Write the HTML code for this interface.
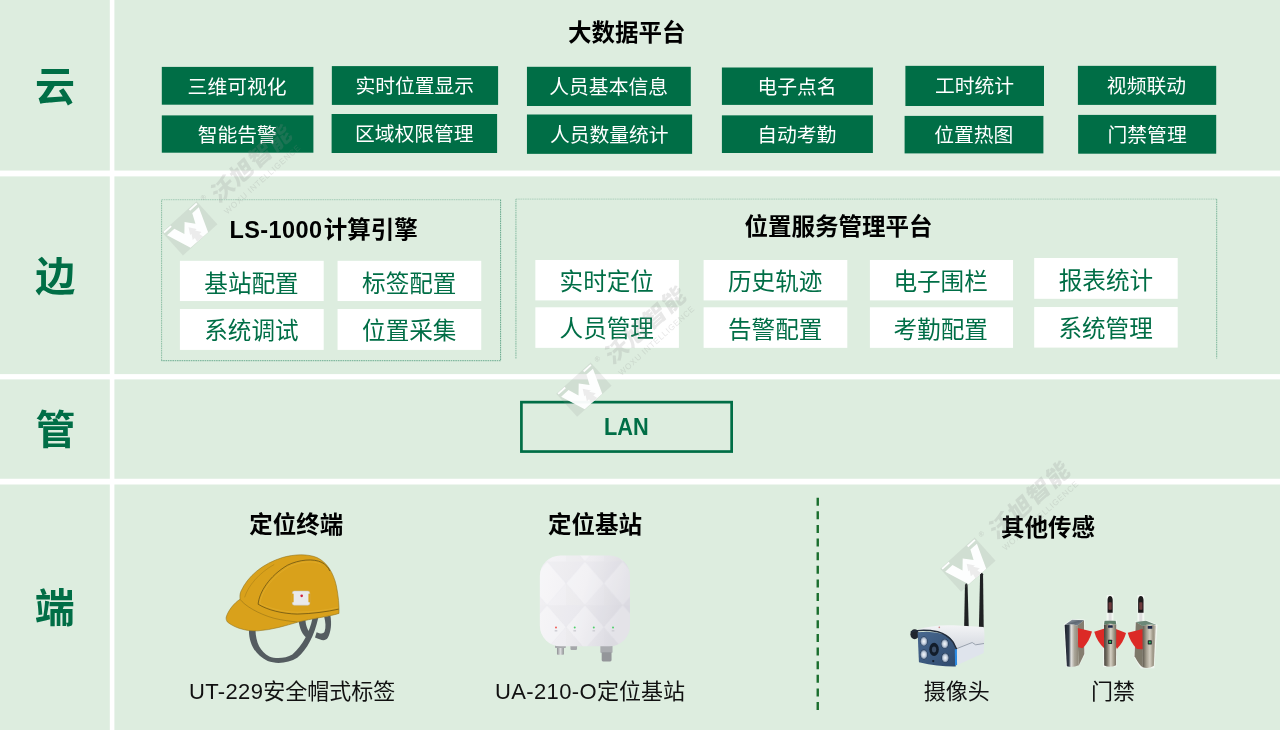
<!DOCTYPE html>
<html lang="zh-CN"><head><meta charset="utf-8"><title>系统架构</title>
<style>
*{margin:0;padding:0;box-sizing:border-box}
html,body{width:1280px;height:730px;overflow:hidden;background:#fff}
body{position:relative;will-change:transform;font-family:"Liberation Sans","Noto Sans CJK SC",sans-serif;color:#000}
.x{position:absolute;white-space:nowrap;line-height:1}
.lab{font-weight:700;font-size:40px;color:#006e46}
.t{font-weight:700;font-size:23.5px;color:#000}
.gt{font-size:19.8px;color:#fff}
.wt{font-size:23.6px;color:#006e46}
.cap{font-size:22px;color:#111}
.lt{font-weight:700;font-size:23px;color:#006e46;transform:scaleX(.945);transform-origin:0 0}
.l{letter-spacing:.42px;margin-right:1.4px}
.cap .l{letter-spacing:.35px;margin-right:0}
svg{position:absolute;overflow:visible}
</style></head>
<body>
<svg style="left:0;top:0" width="1280" height="730" fill="#ddeddf"><rect x="0" y="0" width="109.8" height="170.55"/><rect x="114.4" y="0" width="1165.6" height="170.55"/><rect x="0" y="176.4" width="109.8" height="197.7"/><rect x="114.4" y="176.4" width="1165.6" height="197.7"/><rect x="0" y="379.4" width="109.8" height="99.35"/><rect x="114.4" y="379.4" width="1165.6" height="99.35"/><rect x="0" y="484.5" width="109.8" height="245.5"/><rect x="114.4" y="484.5" width="1165.6" height="245.5"/></svg>
<svg style="left:0;top:0" width="1280" height="730" fill="#006e46"><rect x="161.8" y="66.9" width="151.6" height="37.8"/><rect x="161.8" y="115.4" width="151.6" height="37.3"/><rect x="331.85" y="66.1" width="166.25" height="38.8"/><rect x="331.6" y="114.0" width="165.5" height="39.0"/><rect x="526.95" y="66.8" width="163.85" height="39.2"/><rect x="526.95" y="114.5" width="165.15" height="39.35"/><rect x="721.9" y="67.5" width="151.0" height="37.4"/><rect x="721.9" y="115.35" width="151.0" height="37.65"/><rect x="905.4" y="65.85" width="138.6" height="40.15"/><rect x="904.6" y="115.9" width="138.8" height="37.5"/><rect x="1077.9" y="65.85" width="138.3" height="39.05"/><rect x="1078.15" y="114.9" width="138.05" height="38.8"/></svg>
<svg style="left:0;top:0" width="1280" height="730" fill="#fff"><rect x="179.9" y="260.8" width="143.8" height="40.25"/><rect x="179.9" y="309.05" width="143.8" height="40.85"/><rect x="337.55" y="260.8" width="143.7" height="40.25"/><rect x="337.55" y="309.05" width="143.7" height="40.85"/><rect x="535.35" y="260.0" width="143.55" height="40.4"/><rect x="535.35" y="307.3" width="143.55" height="40.55"/><rect x="703.6" y="260.0" width="143.7" height="40.4"/><rect x="703.6" y="307.3" width="143.7" height="40.55"/><rect x="869.9" y="260.0" width="143.15" height="40.4"/><rect x="869.9" y="307.3" width="143.15" height="40.55"/><rect x="1034.2" y="258.0" width="143.5" height="40.8"/><rect x="1034.2" y="307.05" width="143.5" height="40.55"/></svg>
<svg style="left:0;top:0" width="1280" height="730" fill="none" stroke="#3f9370" stroke-width="1" stroke-dasharray="1.6 0.7"><path d="M161.5 199.7H500.6" stroke-opacity=".35"/><path d="M500.6 199.7V360.7" stroke-opacity=".75"/><path d="M500.6 360.7H161.5" stroke-opacity=".7"/><path d="M161.6 360.7V199.7" stroke-opacity=".5"/><path d="M515.9 358.5V199.1" stroke-opacity=".4" stroke-width="1.4"/><path d="M515.9 199.1H1216.7" stroke-opacity=".3"/><path d="M1216.7 199.1V358.5" stroke-opacity=".6"/></svg>
<svg style="left:0;top:0" width="1280" height="730"><rect x="521.4" y="402.15" width="210.25" height="49.4" fill="none" stroke="#006e46" stroke-width="2.7"/></svg>
<svg style="left:0;top:0" width="1280" height="730"><line x1="817.75" y1="497.7" x2="817.75" y2="710.2" stroke="#1a6e2e" stroke-width="2.4" stroke-dasharray="8 5.62"/></svg>
<span class="x lab" id="t0" style="left:35.10px;top:67.10px">云</span>
<span class="x lab" id="t1" style="left:35.25px;top:256.75px">边</span>
<span class="x lab" id="t2" style="left:35.38px;top:409.88px">管</span>
<span class="x lab" id="t3" style="left:34.75px;top:587.50px">端</span>
<span class="x t" id="t4" style="left:568.12px;top:21.50px">大数据平台</span>
<span class="x t" id="t5" style="left:229.40px;top:218.50px"><span class="l">LS-1000</span>计算引擎</span>
<span class="x t" id="t6" style="left:744.50px;top:216.25px">位置服务管理平台</span>
<span class="x t" id="t7" style="left:249.25px;top:514.25px">定位终端</span>
<span class="x t" id="t8" style="left:548.00px;top:514.00px">定位基站</span>
<span class="x t" id="t9" style="left:1001.00px;top:516.60px">其他传感</span>
<span class="x gt" id="t10" style="left:187.60px;top:78.30px">三维可视化</span>
<span class="x gt" id="t11" style="left:197.75px;top:125.85px">智能告警</span>
<span class="x gt" id="t12" style="left:355.40px;top:77.30px">实时位置显示</span>
<span class="x gt" id="t13" style="left:354.95px;top:124.80px">区域权限管理</span>
<span class="x gt" id="t14" style="left:549.30px;top:78.10px">人员基本信息</span>
<span class="x gt" id="t15" style="left:549.90px;top:125.50px">人员数量统计</span>
<span class="x gt" id="t16" style="left:757.38px;top:78.13px">电子点名</span>
<span class="x gt" id="t17" style="left:757.21px;top:125.80px">自动考勤</span>
<span class="x gt" id="t18" style="left:934.90px;top:77.10px">工时统计</span>
<span class="x gt" id="t19" style="left:934.15px;top:125.62px">位置热图</span>
<span class="x gt" id="t20" style="left:1106.85px;top:77.20px">视频联动</span>
<span class="x gt" id="t21" style="left:1107.55px;top:125.88px">门禁管理</span>
<span class="x wt" id="t22" style="left:204.35px;top:273.10px">基站配置</span>
<span class="x wt" id="t23" style="left:204.24px;top:320.21px">系统调试</span>
<span class="x wt" id="t24" style="left:362.05px;top:273.15px">标签配置</span>
<span class="x wt" id="t25" style="left:362.10px;top:320.19px">位置采集</span>
<span class="x wt" id="t26" style="left:559.60px;top:271.08px">实时定位</span>
<span class="x wt" id="t27" style="left:559.60px;top:318.15px">人员管理</span>
<span class="x wt" id="t28" style="left:728.00px;top:271.10px">历史轨迹</span>
<span class="x wt" id="t29" style="left:728.03px;top:318.80px">告警配置</span>
<span class="x wt" id="t30" style="left:893.40px;top:271.20px">电子围栏</span>
<span class="x wt" id="t31" style="left:893.50px;top:318.65px">考勤配置</span>
<span class="x wt" id="t32" style="left:1058.77px;top:269.88px">报表统计</span>
<span class="x wt" id="t33" style="left:1058.40px;top:317.70px">系统管理</span>
<span class="x lt" id="t34" style="left:604.12px;top:415.50px">LAN</span>
<span class="x cap" id="t35" style="left:189.00px;top:680.60px"><span class="l">UT-229</span>安全帽式标签</span>
<span class="x cap" id="t36" style="left:495.10px;top:681.10px"><span class="l">UA-210-O</span>定位基站</span>
<span class="x cap" id="t37" style="left:923.70px;top:680.90px">摄像头</span>
<span class="x cap" id="t38" style="left:1091.10px;top:680.70px">门禁</span>
<svg style="left:220px;top:548px" width="130" height="120" viewBox="0 0 791 730">
<g fill="#545c60">
<path d="M176 500 C176 585 215 650 290 688 C345 708 420 700 470 668 C530 620 575 530 598 425 L562 430 C545 510 505 590 440 648 C400 672 340 676 300 660 C245 630 218 575 216 500 Z"/>
<path d="M478 440 C484 490 500 530 535 552 L552 520 C535 505 522 475 520 440 Z"/>
<path d="M672 412 C680 460 676 510 655 548 C640 568 615 562 578 545 L588 512 C610 522 628 524 636 510 C646 480 642 450 634 418 Z"/>
</g>
<path d="M38 420 C50 380 85 335 122 312 C120 290 122 275 128 262 C170 170 260 95 380 58 C450 38 530 34 590 58 C650 85 690 150 708 230 C720 290 726 350 724 398 C660 418 560 428 470 452 C400 472 320 498 230 504 C150 508 80 480 45 450 C38 440 36 430 38 420 Z" fill="#d9a11b" stroke="#8f7320" stroke-width="3.5"/>
<path d="M232 342 C238 270 300 170 410 105 C480 70 570 62 620 88 C645 102 660 120 668 140 M232 342 C290 378 380 400 470 402 C560 400 650 388 722 372" fill="none" stroke="#4a3c10" stroke-width="5" opacity=".75"/>
<path d="M243 338 C250 272 310 180 416 116 C484 82 566 74 614 98 M243 338 C300 368 385 390 470 391 C560 389 640 380 716 362" fill="none" stroke="#f0c24a" stroke-width="3" opacity=".55"/>
<path d="M122 312 C150 350 230 400 330 428 C380 440 430 446 470 450" fill="none" stroke="#7a6015" stroke-width="3.5" opacity=".75"/>
<path d="M150 300 C170 230 240 150 330 100" fill="none" stroke="#7a6015" stroke-width="3" opacity=".6"/>
<rect x="440" y="262" width="106" height="86" rx="12" fill="#e9e9ea" stroke="#c4c4c4" stroke-width="3"/>
<rect x="438" y="278" width="10" height="52" fill="#d9a11b"/>
<rect x="538" y="278" width="10" height="52" fill="#d9a11b"/>
<circle cx="497" cy="291" r="8" fill="#d0213a"/>
</svg>
<svg style="left:530px;top:548px" width="110" height="120" viewBox="0 0 669 730">
<defs>
<linearGradient id="bs1" x1="0" y1="0" x2="1" y2="0.3"><stop offset="0" stop-color="#f5f4f7"/><stop offset=".55" stop-color="#eeedf1"/><stop offset="1" stop-color="#dcdbe2"/></linearGradient>
<linearGradient id="bs2" x1="0" y1="0" x2="1" y2="0"><stop offset="0" stop-color="#8d8f92"/><stop offset=".5" stop-color="#dcdddf"/><stop offset="1" stop-color="#8d8f92"/></linearGradient>
<clipPath id="bsc"><rect x="60" y="45" width="548" height="553" rx="125"/></clipPath>
<pattern id="bsp" width="230" height="266" patternUnits="userSpaceOnUse" x="219" y="82">
<path d="M115 0 L230 133 L115 266 L0 133 Z" fill="#ffffff" opacity=".22"/>
<path d="M0 0 L115 0 L0 133 Z M230 0 L230 133 L115 0 Z" fill="#cfced6" opacity=".12"/>
<path d="M0 266 L115 266 L0 133 Z" fill="#d8d7de" opacity=".1"/>
<path d="M115 0 L230 133 L115 266 L0 133 Z" fill="none" stroke="#e2e1e7" stroke-width="3" opacity=".4"/>
</pattern>
</defs>
<rect x="164" y="590" width="42" height="60" rx="5" fill="url(#bs2)"/>
<rect x="152" y="592" width="66" height="16" rx="4" fill="#a9abae"/>
<rect x="246" y="592" width="40" height="28" rx="5" fill="#a5a7aa"/>
<rect x="428" y="590" width="74" height="48" rx="6" fill="#aaacb0"/>
<rect x="436" y="634" width="60" height="56" rx="8" fill="#94969a"/>
<rect x="60" y="45" width="548" height="553" rx="125" fill="url(#bs1)"/>
<rect x="60" y="45" width="548" height="553" rx="125" fill="url(#bsp)"/>
<circle cx="158" cy="484" r="6" fill="#f0605a"/>
<circle cx="272" cy="484" r="6" fill="#4fd06a"/>
<circle cx="388" cy="484" r="6" fill="#4fd06a"/>
<circle cx="505" cy="484" r="6" fill="#4fd06a"/>
<g fill="#cfcfd5"><rect x="150" y="499" width="16" height="9"/><rect x="264" y="499" width="16" height="9"/><rect x="380" y="499" width="16" height="9"/><rect x="497" y="499" width="16" height="9"/></g>
</svg>
<svg style="left:890px;top:560px" width="120" height="120" viewBox="0 0 730 730">
<defs>
<linearGradient id="cm1" x1="0" y1="0" x2="1" y2="1"><stop offset="0" stop-color="#48688f"/><stop offset="1" stop-color="#2f4a6e"/></linearGradient>
<linearGradient id="cm2" x1="0" y1="0" x2="0" y2="1"><stop offset="0" stop-color="#f3f4f6"/><stop offset="1" stop-color="#d5d9e0"/></linearGradient>
<radialGradient id="cm3"><stop offset="0" stop-color="#f7f9fb"/><stop offset=".55" stop-color="#c3cedd"/><stop offset=".8" stop-color="#8395ad"/><stop offset="1" stop-color="#24364f"/></radialGradient>
</defs>
<path d="M451 408 L456 152 Q464 130 472 152 L479 408 Z" fill="#1f2123"/>
<path d="M541 412 L548 86 Q557 66 566 86 L570 412 Z" fill="#1f2123"/>
<ellipse cx="150" cy="452" rx="26" ry="30" fill="#20262e"/>
<path d="M404 540 L500 502 L521 516 L572 508 L570 566 L410 638 Z" fill="#dfe4ec"/>
<path d="M166 424 Q260 392 386 397 L570 408 Q578 450 572 508 L521 516 L500 502 L404 540 Q380 470 330 452 Q250 426 166 424 Z" fill="url(#cm2)"/>
<path d="M404 540 L500 502 L521 516 L572 508" fill="none" stroke="#8a93a1" stroke-width="5"/>
<path d="M168 440 Q250 428 330 452 Q385 474 402 540 L400 648 Q300 650 176 622 Z" fill="url(#cm1)"/>
<path d="M130 436 Q200 418 290 436 Q350 452 384 500 L404 540" fill="none" stroke="#232d3b" stroke-width="9" stroke-linecap="round"/>
<path d="M394 545 L407 541 L408 638 L396 642 Z" fill="#2b8be4"/>
<ellipse cx="268" cy="544" rx="29" ry="40" fill="#121c2a"/>
<ellipse cx="268" cy="544" rx="13" ry="18" fill="#3d4f69"/>
<ellipse cx="206" cy="495" rx="23" ry="30" fill="url(#cm3)"/>
<ellipse cx="333" cy="510" rx="23" ry="30" fill="url(#cm3)"/>
<ellipse cx="206" cy="575" rx="23" ry="30" fill="url(#cm3)"/>
<ellipse cx="336" cy="595" rx="23" ry="30" fill="url(#cm3)"/>
<circle cx="263" cy="615" r="7" fill="#162030"/>
<circle cx="300" cy="410" r="5" fill="#c98a8a"/>
</svg>
<svg style="left:1055px;top:585px" width="110" height="90" viewBox="0 0 892 730">
<defs>
<linearGradient id="gt1" x1="0" y1="0" x2="1" y2="0"><stop offset="0" stop-color="#1d232c"/><stop offset=".3" stop-color="#323b48"/><stop offset=".46" stop-color="#e4e4e1"/><stop offset=".7" stop-color="#aaa599"/><stop offset="1" stop-color="#8a8374"/></linearGradient>
<linearGradient id="gt2" x1="0" y1="0" x2="1" y2="0"><stop offset="0" stop-color="#45423b"/><stop offset=".25" stop-color="#7a7467"/><stop offset=".55" stop-color="#d6d1c4"/><stop offset=".8" stop-color="#9f9888"/><stop offset="1" stop-color="#756e60"/></linearGradient>
<linearGradient id="gt3" x1="0" y1="0" x2="1" y2="0"><stop offset="0" stop-color="#5e594e"/><stop offset=".3" stop-color="#a8a293"/><stop offset=".55" stop-color="#d2cdc0"/><stop offset=".8" stop-color="#9a9383"/><stop offset="1" stop-color="#c4bfb3"/></linearGradient>
<linearGradient id="gt4" x1="0" y1="0" x2="1" y2="1"><stop offset="0" stop-color="#aab4be"/><stop offset=".5" stop-color="#5d6772"/><stop offset="1" stop-color="#8a949e"/></linearGradient>
</defs>
<g stroke="#f6faf6" stroke-width="12" stroke-linejoin="round" opacity=".8" fill="#f6faf6">
<path d="M78 322 L140 282 L235 285 L238 560 L190 652 L95 660 Z"/>
<path d="M397 320 L400 290 L495 290 L497 320 L495 655 L397 660 Z"/>
<path d="M655 300 L740 290 L825 325 L800 670 L700 672 L645 580 Z"/>
<rect x="424" y="88" width="44" height="205"/><rect x="674" y="88" width="44" height="205"/>
</g>
<path d="M180 330 L235 285 L238 560 L192 655 Z" fill="#857e70"/>
<path d="M183 348 L300 378 A300 300 0 0 1 224 514 L188 505 Z" fill="#dc2a26"/>
<path d="M318 380 L402 352 L402 518 A300 300 0 0 1 318 380 Z" fill="#dc2a26"/>
<path d="M493 356 L576 390 A300 300 0 0 1 502 520 L493 500 Z" fill="#dc2a26"/>
<path d="M78 324 Q130 312 182 330 L192 650 Q150 672 96 660 Z" fill="url(#gt1)"/>
<path d="M78 324 L138 282 L235 285 L182 330 Q130 312 78 324 Z" fill="url(#gt4)"/>
<rect x="435" y="215" width="24" height="80" fill="#dedede"/>
<path d="M426 225 L426 120 Q428 92 446 90 Q466 92 468 120 L468 225 Z" fill="#1d1b1c"/>
<rect x="434" y="140" width="26" height="60" rx="6" fill="#6e3a3c"/>
<path d="M397 322 Q445 306 497 322 L495 650 Q446 676 399 652 Z" fill="url(#gt2)"/>
<path d="M402 290 L492 290 L497 322 Q445 306 397 322 Z" fill="#5f7f6a"/>
<rect x="430" y="327" width="38" height="20" rx="3" fill="#1e2a4a"/>
<rect x="430" y="445" width="33" height="33" rx="3" fill="#1d2a2c"/>
<rect x="439" y="454" width="15" height="15" fill="#2fc465"/>
<rect x="684" y="215" width="24" height="85" fill="#dedede"/>
<path d="M674 225 L674 120 Q676 92 696 90 Q716 92 718 120 L718 225 Z" fill="#1d1b1c"/>
<rect x="683" y="140" width="26" height="60" rx="6" fill="#6e3a3c"/>
<path d="M655 300 L712 330 L712 668 Q690 660 645 578 Z" fill="#7d7869"/>
<path d="M590 388 L712 356 L712 522 L664 520 A300 300 0 0 1 590 388 Z" fill="#dc2a26"/>
<path d="M710 330 Q760 316 818 328 L802 655 Q760 684 712 668 Z" fill="url(#gt3)"/>
<path d="M655 300 L738 290 L823 324 Q760 314 712 332 Z" fill="#6c8878"/>
<rect x="752" y="333" width="37" height="22" rx="3" fill="#1e2a4a"/>
<rect x="752" y="449" width="33" height="33" rx="3" fill="#1d2a2c"/>
<rect x="761" y="458" width="15" height="15" fill="#2fc465"/>
</svg>
<svg style="left:0;top:0;pointer-events:none" width="1280" height="730" viewBox="0 0 1280 730">
<g transform="translate(189.77 228.3) rotate(-42)">
<rect x="-23.2" y="-15.6" width="46.4" height="31.2" fill="#8c8c8c" fill-opacity=".16"/>
<path d="M-22-15h9.6v1.8h-9.6z M12-14.6h9.8v1.8h-9.8z M-21.6-10 L-11.7-10 L-7.9 0.7 L0.3-8.1 L7.3 0.4 L12-9.6 L20.8-9.6 L11 15.2 L-12.4 15 Z" fill="#fff" fill-opacity=".96"/>
<path d="M-0.2-1.6 L4.6 5.2 L2.6 5.2 L6.4 10.6 L3.2 10.6 L4.4 15.1 L-3.6 15.1 L-2.6 10.6 L-5.6 10.6 L-2.4 5.2 L-4.2 5.2 Z" fill="#ececec"/>
<text x="28" y="-11.5" font-size="7" fill="#8c8c8c" fill-opacity=".3" font-family="'Liberation Sans',sans-serif">®</text>
<text transform="translate(37.5 0.8) skewX(-10) scale(1.1 1)" font-size="22" font-weight="900" letter-spacing="1.1" fill="#8c8c8c" fill-opacity=".2" font-family="'Liberation Sans','Noto Sans CJK SC',sans-serif">沃旭智能</text>
<text x="37" y="15" font-size="8.2" letter-spacing=".75" fill="#8c8c8c" fill-opacity=".22" font-family="'Liberation Sans',sans-serif">WOXU INTELLIGENCE</text>
</g>
<g transform="translate(583.9 389.7) rotate(-42)">
<rect x="-23.2" y="-15.6" width="46.4" height="31.2" fill="#8c8c8c" fill-opacity=".16"/>
<path d="M-22-15h9.6v1.8h-9.6z M12-14.6h9.8v1.8h-9.8z M-21.6-10 L-11.7-10 L-7.9 0.7 L0.3-8.1 L7.3 0.4 L12-9.6 L20.8-9.6 L11 15.2 L-12.4 15 Z" fill="#fff" fill-opacity=".96"/>
<path d="M-0.2-1.6 L4.6 5.2 L2.6 5.2 L6.4 10.6 L3.2 10.6 L4.4 15.1 L-3.6 15.1 L-2.6 10.6 L-5.6 10.6 L-2.4 5.2 L-4.2 5.2 Z" fill="#ececec"/>
<text x="28" y="-11.5" font-size="7" fill="#8c8c8c" fill-opacity=".3" font-family="'Liberation Sans',sans-serif">®</text>
<text transform="translate(37.5 0.8) skewX(-10) scale(1.1 1)" font-size="22" font-weight="900" letter-spacing="1.1" fill="#8c8c8c" fill-opacity=".2" font-family="'Liberation Sans','Noto Sans CJK SC',sans-serif">沃旭智能</text>
<text x="37" y="15" font-size="8.2" letter-spacing=".75" fill="#8c8c8c" fill-opacity=".22" font-family="'Liberation Sans',sans-serif">WOXU INTELLIGENCE</text>
</g>
<g transform="translate(967.9 564.7) rotate(-42)">
<rect x="-23.2" y="-15.6" width="46.4" height="31.2" fill="#8c8c8c" fill-opacity=".16"/>
<path d="M-22-15h9.6v1.8h-9.6z M12-14.6h9.8v1.8h-9.8z M-21.6-10 L-11.7-10 L-7.9 0.7 L0.3-8.1 L7.3 0.4 L12-9.6 L20.8-9.6 L11 15.2 L-12.4 15 Z" fill="#fff" fill-opacity=".96"/>
<path d="M-0.2-1.6 L4.6 5.2 L2.6 5.2 L6.4 10.6 L3.2 10.6 L4.4 15.1 L-3.6 15.1 L-2.6 10.6 L-5.6 10.6 L-2.4 5.2 L-4.2 5.2 Z" fill="#ececec"/>
<text x="28" y="-11.5" font-size="7" fill="#8c8c8c" fill-opacity=".3" font-family="'Liberation Sans',sans-serif">®</text>
<text transform="translate(37.5 0.8) skewX(-10) scale(1.1 1)" font-size="22" font-weight="900" letter-spacing="1.1" fill="#8c8c8c" fill-opacity=".2" font-family="'Liberation Sans','Noto Sans CJK SC',sans-serif">沃旭智能</text>
<text x="37" y="15" font-size="8.2" letter-spacing=".75" fill="#8c8c8c" fill-opacity=".22" font-family="'Liberation Sans',sans-serif">WOXU INTELLIGENCE</text>
</g>
</svg>

</body></html>
